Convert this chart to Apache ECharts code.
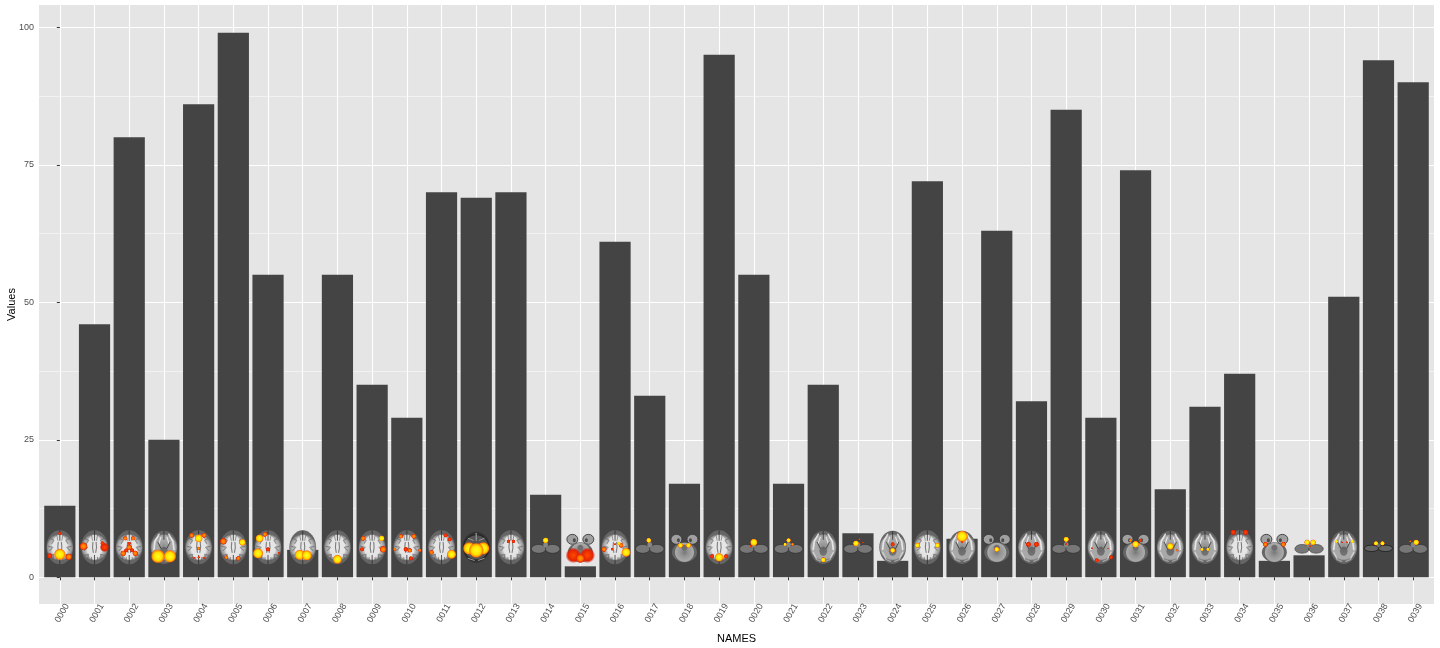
<!DOCTYPE html>
<html><head><meta charset="utf-8">
<style>html,body{margin:0;padding:0;background:#fff}#c{width:1440px;height:648px}</style>
<script src="https://cdn.jsdelivr.net/npm/echarts@6/dist/echarts.min.js"></script>
</head><body><div id="c"></div>
<script>
const names = ['0000','0001','0002','0003','0004','0005','0006','0007','0008','0009','0010','0011','0012','0013','0014','0015','0016','0017','0018','0019','0020','0021','0022','0023','0024','0025','0026','0027','0028','0029','0030','0031','0032','0033','0034','0035','0036','0037','0038','0039'];
const values = [13,46,80,25,86,99,55,5,55,35,29,70,69,70,15,2,61,33,17,95,55,17,35,8,3,72,7,63,32,85,29,74,16,31,37,3,4,51,94,90];
const yTicks = [0,25,50,75,100];
const yMinor = [12.5,37.5,62.5,87.5];
// thumbnail slice kind: A cerebrum, M low axial, T temporal+cerebellum, C cerebellum
const sliceKinds = 'AAAMAAAAAAAAXACTACTACCMCMAMTMCMTMMATCMcC'.split('');
// thumbnail activation spots: [dx, dy, rx, ry, tone]
const sliceSpots = [
 [[0,7,5,6,'y'],[-10,8.5,2.5,2.5,'r'],[9,9.5,3,3,'o'],[0,-14,1.5,2,'r']],
 [[-11,-1,3.5,5,'o'],[10,0,4,4,'r'],[8,-4,2,2,'r']],
 [[-4,-9,2,2,'o'],[4,-9,2,2,'o'],[0,0,2.5,3,'o'],[-6,6,2.5,3,'o'],[6,6,2.5,3,'o'],[-3,3,2,2,'r'],[3,3,2,2,'r'],[0,-4,1.5,2,'r']],
 [[-6,9,6.5,6,'y'],[6,9,5.5,5.5,'y']],
 [[0,-9,3.5,4,'y'],[-7,-12,2.2,2.2,'o'],[5.5,-12,2.2,2.5,'o'],[0,1,1.6,3,'o'],[0,10,1.2,1.2,'r'],[-5,10.5,1.2,1.2,'r'],[5,10.5,1.2,1.2,'r']],
 [[-10,-6,3,3,'o'],[9,-5,3,3.2,'y'],[-7,10,1.8,2,'o'],[5,11,2,2.5,'o']],
 [[-10,6,4.5,5,'y'],[-8.5,-9,3.5,4,'y'],[-3,-13,2.2,2.2,'o'],[0,2,2,3.5,'r'],[11,6,1.2,1.2,'r']],
 [[-3,7.5,4.5,5,'y'],[4,8,4.5,5,'y']],
 [[0,12,4.5,4,'y']],
 [[-9,-9,2.2,2.2,'o'],[9.5,-9,2.6,2.6,'y'],[-10,2,2.2,2,'r'],[11,2,3,3,'o']],
 [[-6,-11,2,2,'o'],[7,-11,2.2,2.2,'o'],[-12,2,1.5,2,'o'],[13,3,1.5,2,'o'],[-1,2,2.2,3,'r'],[3,3,2,2.5,'o'],[4,11,2,2,'r']],
 [[10,7,4,6.5,'y'],[8,-8,3,2,'r'],[4,-12,2,2,'r'],[-10,5,2,3,'o']],
 [[-7,1,8,5.5,'y'],[7,1,8,5.5,'y'],[0,3,6.5,7,'y']],
 [[-2.5,-6,1.7,3.5,'r'],[2.5,-6,1.7,3.5,'r']],
 [[0,-7,2.6,2.6,'y']],
 [[-7,8,7,6.5,'r'],[7,8,7,6.5,'r'],[0,11,8,4,'o']],
 [[11,5,4,5,'y'],[-11,2,2.3,4,'o'],[0,-3,1,1.5,'r'],[6,-2,2.2,2.2,'o'],[-3,2,1.2,1.5,'r'],[4,-4,1.5,2,'y']],
 [[-1,-7,2.2,2.4,'y']],
 [[-4,-2,2.6,2.2,'y'],[4,-2,2.6,2.2,'y']],
 [[0,10,4.5,3.8,'y'],[-7,9,2,2.5,'r'],[7,9,2,2.5,'r']],
 [[0,-5,3.2,3.4,'y'],[-3,-1,1.2,1.2,'r']],
 [[0,-7,2.2,2,'y'],[-3.5,-3,1.5,1.5,'y'],[4,-3,1.5,1.5,'o']],
 [[0,12.5,13,2.4,'r'],[0,12.5,4,2.2,'y']],
 [[-2,-4,2.6,2.6,'y'],[1.5,-8,1,1.2,'r'],[5,-5,.8,1,'r']],
 [[0,3,2.5,2.2,'y'],[0,-3,2,2.2,'r']],
 [[-10,-2,3.2,2.2,'y'],[10,-2,3.2,2.2,'y']],
 [[0,-11,7.5,5,'y'],[0,-5,1,2.5,'r']],
 [[0,2,2.6,2.2,'y']],
 [[-3,-3,2.4,3.6,'r'],[5,-3,2.4,3.6,'r']],
 [[0,-8,3,2.4,'y'],[0,-3,1,1.5,'r']],
 [[-4,13,4,2,'r'],[10,10,2,4.5,'r'],[-9,1,1,1,'r'],[7,1,.8,.8,'r']],
 [[0,-3,4.5,3,'y'],[-5,-7,1.6,2.4,'o'],[5,-7,1.6,2.4,'r']],
 [[0,-1,3,3,'y'],[7,3,1.2,1.2,'o']],
 [[-3,2,1.6,1.5,'y'],[3,2,1.6,1.5,'y']],
 [[-6.5,-15,5.5,2.5,'r'],[6,-15,5.5,2.5,'r']],
 [[-9,-3,4,2.2,'o'],[9,-3,4,2.2,'o']],
 [[-2,-5,2.5,2.8,'y'],[4,-5,2.5,2.8,'y'],[1,-1,1,1,'r']],
 [[-7.5,-6,1.6,2.2,'y'],[8.5,-6,1.6,2.2,'y'],[-2,-5,1.2,1,'r'],[3,-5,1.2,1,'r']],
 [[-2.5,-4,2,2,'y'],[4,-4,2,2,'y']],
 [[3,-5,2.6,2.5,'y'],[-3,-6,.9,.9,'o']]
];
const sliceValue = 5.45;

const tones = {
 y:[[0,'#ffff20'],[.58,'#ffe000'],[.82,'#ff8c00'],[1,'rgba(250,50,0,0)']],
 o:[[0,'#ffa000'],[.55,'#ff6a00'],[.82,'rgba(230,40,0,.9)'],[1,'rgba(220,20,0,0)']],
 r:[[0,'#ff4a00'],[.7,'#e42400'],[1,'rgba(200,10,0,0)']]
};
function rad(stops){return {type:'radial',x:.5,y:.5,r:.5,colorStops:stops.map(s=>({offset:s[0],color:s[1]}))};}
function ell(cx,cy,rx,ry,fill,stroke,lw){return {type:'ellipse',shape:{cx,cy,rx,ry},style:{fill,stroke:stroke||null,lineWidth:lw||0}};}
function pl(pts,col,w){return {type:'polyline',shape:{points:pts},style:{stroke:col,lineWidth:w||1,fill:null,lineCap:'round',lineJoin:'round'}};}
function both(pts,col,w){return [pl(pts,col,w),pl(pts.map(p=>[-p[0],p[1]]),col,w)];}
const dark='rgba(40,40,40,.75)', fold='rgba(95,95,95,.6)', wm='rgba(245,245,245,.8)';
function sliceBase(kind){
 if(kind==='A'){
  return [ell(0,0,13.4,17,rad([[0,'#d8d8d8'],[.7,'#c4c4c4'],[.9,'#999'],[1,'#666']])),
   ell(0,0,8,12.5,'rgba(238,238,238,.75)'),
   ...both([[-3,-12],[-2,-7]],fold,1),...both([[-10,-9],[-6,-7],[-8,-4]],fold,1.1),...both([[-11.5,-1],[-7,0],[-10,3]],fold,1.1),
   ...both([[-10,8],[-6,7],[-7,12]],fold,1.1),...both([[-3,10],[-3,14]],fold,1),
   pl([[0,-16.5],[0,-7]],dark,1),pl([[0,8],[0,16.5]],dark,1),
   ...both([[-1.6,-5],[-2,0],[-1.2,5]],'rgba(55,55,55,.6)',1.1)];
 }
 if(kind==='M'){
  return [ell(0,0,13.4,16.6,rad([[0,'#8a8a8a'],[.5,'#a8a8a8'],[.88,'#a8a8a8'],[1,'#666']])),
   ...both([[-5,-13],[-9,-6],[-10,2]],wm,1.7),...both([[-3,-10],[-5,-4]],wm,1.2),...both([[-10,5],[-7,11]],'rgba(225,225,225,.7)',1.4),
   pl([[0,-16],[0,-8]],dark,1),ell(0,4,3.8,4.5,'rgba(70,70,70,.55)'),
   ...both([[-6,-5],[-3,1]],dark,1),...both([[-7,12],[-2,14]],'rgba(190,190,190,.7)',1.2)];
 }
 if(kind==='X'){
  return [ell(0,0,13.6,15.5,rad([[0,'#555'],[.85,'#555'],[.92,'#222'],[1,'#333']])),
   pl([[0,-14],[0,-7]],'#999',1.2),...both([[-8,-9],[-3,-7]],'#999',1),...both([[-8,11],[-2,13]],'#999',1)];
 }
 if(kind==='T'){
  return [ell(-8,-8,5.5,5,'#a0a0a0','#2e2e2e',.8),ell(8,-8,5.5,5,'#a0a0a0','#2e2e2e',.8),
   ell(-6,-7,1.5,2,'#4a4a4a'),ell(6,-7,1.5,2,'#4a4a4a'),
   ell(0,5,12.5,10,rad([[0,'#777'],[.4,'#949494'],[.9,'#aaa'],[1,'#666']])),ell(0,.5,3,3,'#6e6e6e')];
 }
 if(kind==='c'){
  return [ell(-7,1,7,3.2,'#646464','#1a1a1a',.8),ell(7,1,7,3.2,'#646464','#1a1a1a',.8),ell(0,-2,2,2,'#6e6e6e')];
 }
 return [ell(-7,1.5,7.2,4.4,'#777777','rgba(35,35,35,.7)',.7),ell(7,1.5,7.2,4.4,'#777777','rgba(35,35,35,.7)',.7),ell(0,-2.5,2.4,2.8,'#868686')];
}
function renderSlice(params,api){
 const i=api.value(0);
 const p=api.coord([i,api.value(1)]);
 const spots=sliceSpots[i].map(s=>ell(s[0],s[1],s[2]*1.2,s[3]*1.2,rad(tones[s[4]])));
 return {type:'group',x:p[0],y:p[1],children:sliceBase(sliceKinds[i]).concat(spots)};
}
const chart=echarts.init(document.getElementById('c'),null,{renderer:'canvas'});
const labelFont={fontFamily:'"Liberation Sans",Arial,sans-serif'};
const yMin=-4.85, yMax=104.05;
chart.setOption({
 animation:false,
 backgroundColor:'#fff',
 textStyle:labelFont,
 grid:{left:39,right:6,top:5,bottom:44,backgroundColor:'#E5E5E5',show:true,borderWidth:0,outerBoundsMode:'none',containLabel:false},
 xAxis:{type:'value',min:-0.6,max:39.6,
  name:'NAMES',nameLocation:'middle',nameGap:29,nameMoveOverlap:false,nameTextStyle:{color:'#000',fontSize:11,...labelFont},
  axisLine:{show:false},
  axisTick:{show:true,length:3,customValues:names.map((_,i)=>i),lineStyle:{color:'#333',width:1}},
  axisLabel:{customValues:names.map((_,i)=>i),formatter:v=>names[v],rotate:60,align:'center',verticalAlign:'middle',margin:13,padding:[0,0,0,9],color:'#4D4D4D',fontSize:9,hideOverlap:false,showMinLabel:true,showMaxLabel:true,...labelFont},
  splitLine:{show:true,lineStyle:{color:'#fff',width:1.1}}},
 yAxis:[{type:'value',min:yMin,max:yMax,
  name:'Values',nameLocation:'middle',nameGap:22,nameRotate:90,nameMoveOverlap:false,nameTextStyle:{color:'#000',fontSize:11,...labelFont},
  axisLine:{show:false},
  axisTick:{show:true,length:3,customValues:yTicks,lineStyle:{color:'#333',width:1}},
  axisLabel:{customValues:yTicks,margin:5,color:'#4D4D4D',fontSize:9,...labelFont},
  splitLine:{show:true,lineStyle:{color:'#fff',width:1.1}}},
  {type:'value',min:yMin,max:yMax,position:'left',show:true,
  axisLine:{show:false},axisTick:{show:false,customValues:yMinor},axisLabel:{show:false,customValues:yMinor},
  splitLine:{show:true,lineStyle:{color:'#F2F2F2',width:1}}}],
 series:[
  {type:'bar',data:values.map((v,i)=>[i,v]),barWidth:31.2,itemStyle:{color:'#444444'},z:3},
  {type:'custom',data:names.map((_,i)=>[i,sliceValue]),renderItem:renderSlice,clip:false,z:4,silent:true,encode:{x:0,y:1}}
 ]
});
</script></body></html>
